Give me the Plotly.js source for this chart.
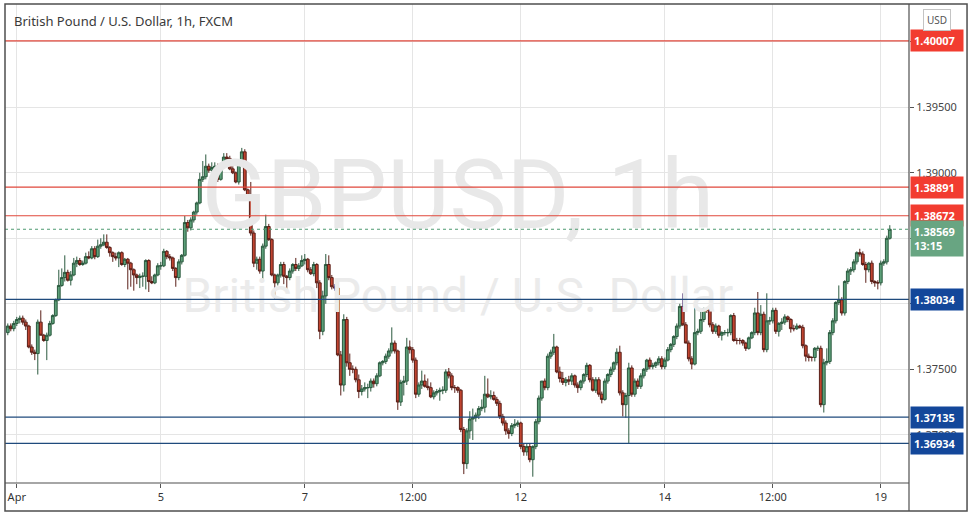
<!DOCTYPE html>
<html>
<head>
<meta charset="utf-8">
<script src="https://cdn.plot.ly/plotly-3.0.1.min.js"></script>
<style>html,body{margin:0;padding:0;background:#fff;}#chart{width:974px;height:516px;}</style>
</head>
<body>
<div id="chart"></div>
<script>
// GBP/USD hourly candles (FXCM)
const opens = [
1.3778,1.3783,1.3781,1.3785,1.3788,1.3789,1.3786,1.3783,1.3767,1.3763,1.3762,1.3786,1.3776,1.3772,1.3776,1.3785,1.3791,1.3803,1.3814,1.3820,
1.3824,1.3818,1.3822,1.3831,1.3833,1.3830,1.3831,1.3836,1.3835,1.3842,1.3836,1.3844,1.3845,1.3847,1.3843,1.3839,1.3836,1.3835,1.3839,1.3830,
1.3834,1.3831,1.3826,1.3822,1.3820,1.3821,1.3821,1.3833,1.3817,1.3816,1.3822,1.3829,
1.3829,1.3840,1.3836,1.3835,1.3827,1.3820,1.3832,1.3837,1.3862,1.3858,1.3864,1.3870,1.3877,1.3895,1.3897,1.3905,1.3902,1.3904,1.3905,1.3895,
1.3905,1.3912,1.3911,1.3903,1.3900,1.3893,1.3906,1.3916,1.3887,1.3881,1.3854,1.3831,1.3834,1.3825,1.3844,1.3859,1.3849,1.3822,1.3816,1.3822,
1.3830,1.3821,1.3820,1.3825,1.3830,
1.3827,1.3829,1.3833,1.3834,1.3826,1.3823,1.3830,1.3816,1.3779,1.3806,1.3830,1.3820,1.3813,1.3812,1.3761,1.3738,1.3788,1.3755,1.3750,1.3750,
1.3742,1.3733,1.3735,1.3736,1.3736,1.3741,1.3739,1.3745,1.3755,1.3756,1.3760,1.3764,1.3770,1.3764,1.3725,1.3740,1.3741,1.3767,1.3765,1.3757,
1.3731,1.3738,1.3741,1.3737,1.3736,1.3729,1.3732,1.3733,1.3734,1.3734,1.3748,1.3745,1.3736,
1.3736,1.3734,1.3704,1.3678,1.3703,1.3712,1.3713,1.3715,1.3720,1.3721,1.3731,1.3729,1.3730,1.3727,1.3724,1.3714,1.3709,1.3703,1.3701,1.3707,
1.3708,1.3709,1.3691,1.3687,1.3691,1.3681,1.3691,1.3710,1.3728,1.3741,1.3736,1.3760,1.3763,1.3767,1.3748,1.3743,1.3740,1.3742,1.3741,1.3745,
1.3738,1.3736,1.3741,1.3746,1.3753,1.3742,1.3734,1.3742,1.3731,
1.3727,1.3741,1.3746,1.3750,1.3755,1.3763,1.3732,1.3723,1.3730,1.3751,1.3731,1.3741,1.3737,1.3745,1.3750,1.3757,1.3752,1.3753,1.3755,1.3758,
1.3752,1.3757,1.3765,1.3769,1.3775,1.3783,1.3798,1.3784,1.3770,1.3758,1.3754,1.3778,1.3779,1.3788,1.3796,1.3795,1.3784,1.3779,1.3783,1.3776,
1.3778,1.3778,1.3778,1.3791,1.3772,1.3772,1.3772,1.3770,1.3766,
1.3774,1.3778,1.3793,1.3778,1.3792,1.3765,1.3787,1.3787,1.3795,1.3779,1.3785,1.3786,1.3790,1.3788,1.3781,1.3781,1.3783,1.3782,1.3768,1.3760,
1.3759,1.3759,1.3766,1.3766,1.3723,1.3755,1.3756,1.3778,1.3787,1.3801,1.3803,1.3793,1.3817,1.3825,1.3826,1.3832,1.3839,1.3838,1.3830,1.3826,
1.3831,1.3817,1.3816,1.3816,1.3831,1.3832,1.3850
];
const highs = [
1.3785,1.3785,1.3787,1.3790,1.3791,1.3791,1.3788,1.3784,1.3769,1.3765,1.3788,1.3795,1.3777,1.3778,1.3787,1.3792,1.3804,1.3826,1.3827,1.3837,
1.3826,1.3825,1.3835,1.3836,1.3835,1.3833,1.3839,1.3840,1.3844,1.3844,1.3849,1.3850,1.3853,1.3853,1.3844,1.3840,1.3839,1.3840,1.3840,1.3835,
1.3835,1.3832,1.3827,1.3823,1.3823,1.3824,1.3834,1.3834,1.3821,1.3823,1.3831,1.3832,
1.3842,1.3841,1.3838,1.3836,1.3828,1.3834,1.3838,1.3867,1.3864,1.3866,1.3871,1.3878,1.3900,1.3909,1.3914,1.3907,1.3908,1.3908,1.3907,1.3906,
1.3915,1.3915,1.3913,1.3905,1.3901,1.3907,1.3919,1.3918,1.3888,1.3893,1.3856,1.3836,1.3836,1.3846,1.3868,1.3861,1.3850,1.3823,1.3823,1.3832,
1.3832,1.3822,1.3827,1.3831,1.3835,
1.3831,1.3837,1.3838,1.3835,1.3828,1.3832,1.3831,1.3818,1.3810,1.3838,1.3837,1.3822,1.3815,1.3813,1.3764,1.3792,1.3790,1.3762,1.3753,1.3752,
1.3746,1.3738,1.3740,1.3739,1.3743,1.3743,1.3747,1.3756,1.3757,1.3762,1.3766,1.3782,1.3772,1.3765,1.3742,1.3745,1.3774,1.3772,1.3767,1.3759,
1.3740,1.3749,1.3746,1.3743,1.3740,1.3734,1.3735,1.3736,1.3737,1.3750,1.3751,1.3747,1.3738,
1.3737,1.3735,1.3706,1.3705,1.3718,1.3720,1.3717,1.3722,1.3727,1.3745,1.3743,1.3734,1.3733,1.3729,1.3726,1.3716,1.3711,1.3705,1.3709,1.3712,
1.3711,1.3710,1.3693,1.3693,1.3693,1.3692,1.3712,1.3730,1.3741,1.3743,1.3762,1.3765,1.3777,1.3768,1.3752,1.3748,1.3744,1.3745,1.3747,1.3746,
1.3740,1.3742,1.3747,1.3755,1.3754,1.3744,1.3744,1.3744,1.3733,
1.3743,1.3747,1.3752,1.3756,1.3766,1.3768,1.3734,1.3732,1.3755,1.3753,1.3743,1.3743,1.3747,1.3751,1.3758,1.3759,1.3755,1.3756,1.3760,1.3760,
1.3759,1.3767,1.3770,1.3776,1.3785,1.3800,1.3808,1.3786,1.3772,1.3760,1.3797,1.3781,1.3795,1.3797,1.3797,1.3796,1.3786,1.3785,1.3784,1.3779,
1.3780,1.3781,1.3792,1.3793,1.3774,1.3774,1.3773,1.3771,1.3775,
1.3779,1.3797,1.3809,1.3799,1.3794,1.3808,1.3790,1.3797,1.3797,1.3786,1.3789,1.3792,1.3791,1.3789,1.3784,1.3785,1.3784,1.3784,1.3769,1.3762,
1.3760,1.3767,1.3768,1.3768,1.3758,1.3766,1.3780,1.3789,1.3802,1.3814,1.3805,1.3818,1.3827,1.3828,1.3834,1.3840,1.3842,1.3840,1.3832,1.3832,
1.3833,1.3818,1.3818,1.3833,1.3834,1.3852,1.3860
];
const lows = [
1.3776,1.3779,1.3779,1.3783,1.3785,1.3784,1.3780,1.3766,1.3761,1.3757,1.3746,1.3776,1.3771,1.3757,1.3775,1.3784,1.3790,1.3802,1.3813,1.3817,
1.3817,1.3814,1.3821,1.3828,1.3829,1.3829,1.3830,1.3834,1.3834,1.3834,1.3835,1.3842,1.3844,1.3842,1.3836,1.3832,1.3833,1.3828,1.3829,1.3828,
1.3811,1.3813,1.3810,1.3815,1.3812,1.3813,1.3811,1.3809,1.3815,1.3815,1.3821,1.3826,
1.3828,1.3834,1.3833,1.3825,1.3813,1.3818,1.3830,1.3836,1.3855,1.3856,1.3862,1.3868,1.3876,1.3893,1.3895,1.3900,1.3901,1.3902,1.3893,1.3894,
1.3903,1.3910,1.3902,1.3899,1.3892,1.3891,1.3905,1.3886,1.3880,1.3852,1.3828,1.3826,1.3823,1.3818,1.3842,1.3848,1.3821,1.3803,1.3814,1.3820,
1.3815,1.3811,1.3818,1.3823,1.3825,
1.3825,1.3828,1.3830,1.3824,1.3822,1.3821,1.3812,1.3773,1.3776,1.3800,1.3818,1.3811,1.3810,1.3760,1.3730,1.3733,1.3752,1.3745,1.3747,1.3740,
1.3728,1.3730,1.3733,1.3728,1.3733,1.3736,1.3737,1.3744,1.3753,1.3754,1.3758,1.3762,1.3762,1.3719,1.3722,1.3730,1.3738,1.3762,1.3755,1.3728,
1.3729,1.3735,1.3736,1.3734,1.3728,1.3727,1.3730,1.3726,1.3731,1.3732,1.3743,1.3734,1.3732,
1.3732,1.3702,1.3670,1.3674,1.3697,1.3696,1.3710,1.3712,1.3718,1.3717,1.3728,1.3727,1.3726,1.3722,1.3712,1.3707,1.3700,1.3697,1.3699,1.3705,
1.3706,1.3689,1.3684,1.3684,1.3679,1.3668,1.3689,1.3708,1.3726,1.3734,1.3734,1.3758,1.3761,1.3747,1.3740,1.3738,1.3737,1.3738,1.3738,1.3736,
1.3732,1.3734,1.3739,1.3744,1.3740,1.3733,1.3732,1.3729,1.3724,
1.3726,1.3739,1.3744,1.3748,1.3753,1.3730,1.3714,1.3713,1.3693,1.3729,1.3729,1.3735,1.3735,1.3743,1.3748,1.3750,1.3750,1.3751,1.3753,1.3750,
1.3750,1.3756,1.3763,1.3767,1.3773,1.3781,1.3783,1.3771,1.3756,1.3750,1.3753,1.3776,1.3777,1.3786,1.3793,1.3782,1.3777,1.3777,1.3774,1.3772,
1.3776,1.3775,1.3776,1.3771,1.3769,1.3769,1.3768,1.3764,1.3765,
1.3773,1.3776,1.3776,1.3776,1.3763,1.3763,1.3784,1.3785,1.3777,1.3775,1.3780,1.3784,1.3786,1.3778,1.3779,1.3780,1.3781,1.3766,1.3756,1.3756,
1.3756,1.3756,1.3764,1.3721,1.3717,1.3753,1.3754,1.3776,1.3785,1.3799,1.3791,1.3791,1.3815,1.3822,1.3824,1.3830,1.3836,1.3829,1.3816,1.3824,
1.3815,1.3813,1.3811,1.3814,1.3829,1.3830,1.3849
];
const closes = [
1.3783,1.3781,1.3785,1.3788,1.3789,1.3786,1.3783,1.3767,1.3763,1.3762,1.3786,1.3776,1.3772,1.3776,1.3785,1.3791,1.3803,1.3814,1.3820,1.3824,
1.3818,1.3822,1.3831,1.3833,1.3830,1.3831,1.3836,1.3835,1.3842,1.3836,1.3844,1.3845,1.3847,1.3843,1.3839,1.3836,1.3835,1.3839,1.3830,1.3834,
1.3831,1.3826,1.3822,1.3820,1.3821,1.3821,1.3833,1.3817,1.3816,1.3822,1.3829,1.3829,
1.3840,1.3836,1.3835,1.3827,1.3820,1.3832,1.3837,1.3862,1.3858,1.3864,1.3870,1.3877,1.3895,1.3897,1.3905,1.3902,1.3904,1.3905,1.3895,1.3905,
1.3912,1.3911,1.3903,1.3900,1.3893,1.3906,1.3916,1.3887,1.3881,1.3854,1.3831,1.3834,1.3825,1.3844,1.3859,1.3849,1.3822,1.3816,1.3822,1.3830,
1.3821,1.3820,1.3825,1.3830,1.3827,
1.3829,1.3833,1.3834,1.3826,1.3823,1.3830,1.3816,1.3779,1.3806,1.3830,1.3820,1.3813,1.3812,1.3761,1.3738,1.3788,1.3755,1.3750,1.3750,1.3742,
1.3733,1.3735,1.3736,1.3736,1.3741,1.3739,1.3745,1.3755,1.3756,1.3760,1.3764,1.3770,1.3764,1.3725,1.3740,1.3741,1.3767,1.3765,1.3757,1.3731,
1.3738,1.3741,1.3737,1.3736,1.3729,1.3732,1.3733,1.3734,1.3734,1.3748,1.3745,1.3736,1.3736,
1.3734,1.3704,1.3678,1.3703,1.3712,1.3713,1.3715,1.3720,1.3721,1.3731,1.3729,1.3730,1.3727,1.3724,1.3714,1.3709,1.3703,1.3701,1.3707,1.3708,
1.3709,1.3691,1.3687,1.3691,1.3681,1.3691,1.3710,1.3728,1.3741,1.3736,1.3760,1.3763,1.3767,1.3748,1.3743,1.3740,1.3742,1.3741,1.3745,1.3738,
1.3736,1.3741,1.3746,1.3753,1.3742,1.3734,1.3742,1.3731,1.3727,
1.3741,1.3746,1.3750,1.3755,1.3763,1.3732,1.3723,1.3730,1.3751,1.3731,1.3741,1.3737,1.3745,1.3750,1.3757,1.3752,1.3753,1.3755,1.3758,1.3752,
1.3757,1.3765,1.3769,1.3775,1.3783,1.3798,1.3784,1.3770,1.3758,1.3754,1.3778,1.3779,1.3788,1.3796,1.3795,1.3784,1.3779,1.3783,1.3776,1.3778,
1.3778,1.3778,1.3791,1.3772,1.3772,1.3772,1.3770,1.3766,1.3774,
1.3778,1.3793,1.3778,1.3792,1.3765,1.3787,1.3787,1.3795,1.3779,1.3785,1.3786,1.3790,1.3788,1.3781,1.3781,1.3783,1.3782,1.3768,1.3760,1.3759,
1.3759,1.3766,1.3766,1.3723,1.3755,1.3756,1.3778,1.3787,1.3801,1.3803,1.3793,1.3817,1.3825,1.3826,1.3832,1.3839,1.3838,1.3830,1.3826,1.3831,
1.3817,1.3816,1.3816,1.3831,1.3832,1.3850,1.38569
];
// time-axis labels and the bar they sit on
const tickBars = [3, 51, 99, 135, 171, 219, 255, 291];
const tickLabels = ["Apr", "5", "7", "12:00", "12", "14", "12:00", "19"];
// horizontal price levels drawn on the chart
const resistanceLevels = [1.40007, 1.38891, 1.38672];
const supportLevels = [1.38034, 1.37135, 1.36934];
const lastPrice = 1.38569;
const countdown = "13:15";
// price-scale gridlines; labels hidden where a level badge covers them in the reference
const priceTicks = [1.370, 1.375, 1.380, 1.385, 1.390, 1.395, 1.400];
const priceTickLabels = ["1.37000", "1.37500", "", "", "1.39000", "1.39500", ""];

const bars = closes.map((_, k) => k);

const font = "Noto Sans, Open Sans, sans-serif";
const wmFont = "Roboto, Noto Sans, sans-serif";
const redLine = "#e0473b", redBadge = "#f23c30";
const blueLine = "#1f4a7c", blueBadge = "#13479a";
const greenBadge = "#68a582";

const watermark1 = {
  type: "scatter", mode: "text", x: [150], y: [1.3876],
  text: ["GBPUSD, 1h"], textposition: "middle center",
  textfont: {family: wmFont, size: 96, color: "#e8e8e8"},
  hoverinfo: "skip", showlegend: false
};
const watermark2 = {
  type: "scatter", mode: "text", x: [150], y: [1.3803],
  text: ["British Pound / U.S. Dollar"], textposition: "middle center",
  textfont: {family: wmFont, size: 48, color: "#ebebeb"},
  hoverinfo: "skip", showlegend: false
};
const candles = {
  type: "candlestick", x: bars, open: opens, high: highs, low: lows, close: closes,
  increasing: {line: {color: "#2b5a3f", width: 1}, fillcolor: "#5c9f78"},
  decreasing: {line: {color: "#5a1f18", width: 1}, fillcolor: "#c0432f"},
  whiskerwidth: 0, hoverinfo: "skip", showlegend: false
};

const shapes = [];
resistanceLevels.forEach(v => shapes.push({type: "line", xref: "paper", x0: 0, x1: 1, yref: "y", y0: v, y1: v, line: {color: redLine, width: 1.2}}));
supportLevels.forEach(v => shapes.push({type: "line", xref: "paper", x0: 0, x1: 1, yref: "y", y0: v, y1: v, line: {color: blueLine, width: 1.2}}));
shapes.push({type: "line", xref: "paper", x0: 0, x1: 1, yref: "y", y0: lastPrice, y1: lastPrice, line: {color: "#4f9a72", width: 1, dash: "dot"}});
// frame
shapes.push({type: "rect", xref: "paper", yref: "paper", x0: 0, x1: 1.0642, y0: -0.0585, y1: 1, line: {color: "#4f4f4f", width: 1.5}});
shapes.push({type: "line", xref: "paper", yref: "paper", x0: 1, x1: 1, y0: -0.0585, y1: 1, line: {color: "#4f4f4f", width: 1.2}});
shapes.push({type: "line", xref: "paper", yref: "paper", x0: 0, x1: 1, y0: 0, y1: 0, line: {color: "#4f4f4f", width: 1.2}});

const fmt = v => v.toFixed(5);
const badge = (v, bg, txt) => ({
  xref: "paper", x: 1, xanchor: "left", xshift: 1, yref: "y", y: v, yanchor: "middle",
  text: "<b>" + (txt || fmt(v)) + "</b>", showarrow: false, align: "left",
  bgcolor: bg, borderpad: 3, width: 46, font: {family: font, size: 11, color: "#ffffff"}
});
const annotations = [];
resistanceLevels.forEach(v => annotations.push(badge(v, redBadge)));
supportLevels.forEach(v => annotations.push(badge(v, blueBadge)));
annotations.push(Object.assign(badge(lastPrice, greenBadge, fmt(lastPrice) + "<br>" + countdown), {yanchor: "top", yshift: 9}));
annotations.push({xref: "paper", x: 1.0310, xanchor: "center", yref: "paper", y: 1.0, yanchor: "top", yshift: -5, text: "USD", showarrow: false,
  bordercolor: "#c4c4c4", borderwidth: 1, borderpad: 3, bgcolor: "#ffffff", font: {family: font, size: 10, color: "#555"}});

const layout = {
  width: 974, height: 516,
  margin: {l: 5, r: 65, t: 4, b: 33},
  paper_bgcolor: "#ffffff", plot_bgcolor: "#ffffff",
  boxgap: 0.08, boxgroupgap: 0,
  title: {text: "British Pound / U.S. Dollar, 1h, FXCM", x: 14 / 974, xanchor: "left", xref: "container",
    y: 1 - 21 / 516, yanchor: "middle", font: {family: font, size: 13, color: "#3a3a3a"}},
  xaxis: {range: [-0.93, 300.4], tickvals: tickBars, ticktext: tickLabels, showgrid: true, gridcolor: "#e5e5e5",
    zeroline: false, showline: false, ticks: "outside", ticklen: 4, tickcolor: "#555",
    tickfont: {family: font, size: 11, color: "#333"}, rangeslider: {visible: false}, fixedrange: true},
  yaxis: {side: "right", range: [1.36632, 1.402885], tickvals: priceTicks, ticktext: priceTickLabels,
    showgrid: true, gridcolor: "#e5e5e5", zeroline: false, showline: false, ticks: "outside", ticklen: 4,
    tickcolor: "#555", tickfont: {family: font, size: 11, color: "#444"}, fixedrange: true},
  shapes: shapes, annotations: annotations, showlegend: false, hovermode: false
};

Plotly.newPlot("chart", [watermark1, watermark2, candles], layout, {staticPlot: true, displayModeBar: false});
</script>
</body>
</html>
